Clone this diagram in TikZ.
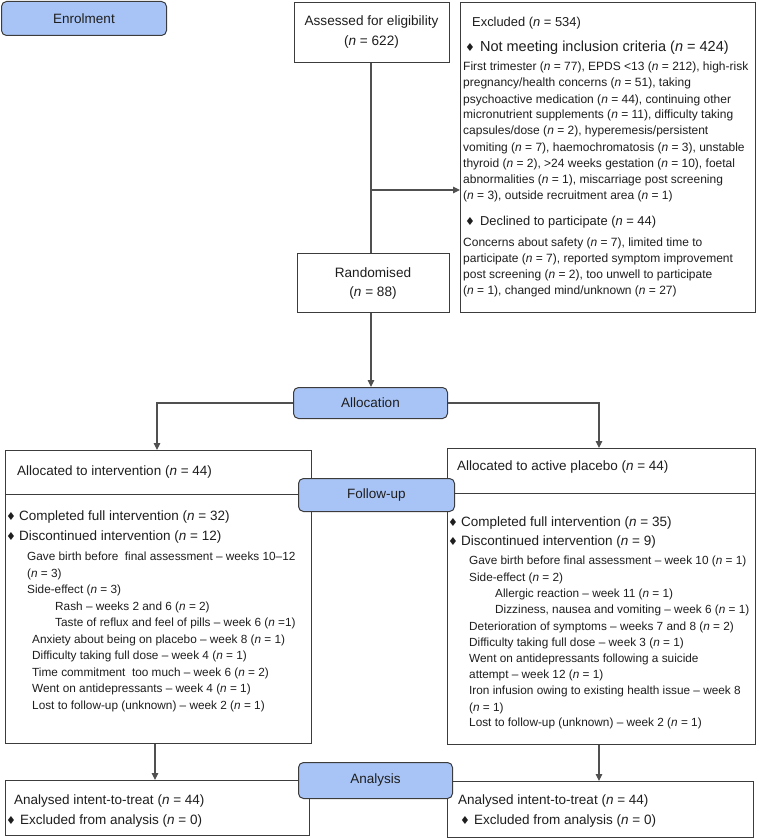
\documentclass[tikz,border=0pt]{standalone}
\usepackage{fontspec}
\setmainfont{Liberation Sans}
\newfontfamily\dejavu{DejaVu Sans}
\usetikzlibrary{arrows.meta}
\definecolor{phase}{RGB}{168,196,246}
\definecolor{ink}{RGB}{30,30,30}
\definecolor{edge}{RGB}{60,60,60}
\definecolor{linec}{RGB}{80,80,80}
\newcommand\nn{\textit{n}}
\newcommand\dia{{\dejavu\fontsize{11}{11}\selectfont ♦}}
\newcounter{tlc}
\newcommand\tline[4]{\stepcounter{tlc}\node[#1] (t\arabic{tlc}) at (#2,#3) {#4};}
\begin{document}
\begin{tikzpicture}[x=1pt,y=-1pt,
  box/.style={draw=edge, line width=0.9pt, fill=white, inner sep=0pt, anchor=north west},
  phasebox/.style={draw=edge, line width=1pt, fill=phase, rounded corners=5pt, inner sep=0pt, anchor=north west, font=\fontsize{13.5}{16}\selectfont, text=ink},
  conn/.style={draw=linec, line width=1.1pt},
  arr/.style={conn, -{Triangle[length=7pt,width=6.5pt]}},
  txt/.style={anchor=base west, inner sep=0pt, text=ink},
  ctxt/.style={anchor=base, inner sep=0pt, text=ink, font=\fontsize{13.6}{16}\selectfont},
  tbody/.style={txt, font=\fontsize{12}{14}\selectfont},
  tsmall/.style={txt, font=\fontsize{11.8}{14}\selectfont},
  tmid/.style={txt, font=\fontsize{12.9}{15}\selectfont},
  thead/.style={txt, font=\fontsize{13.5}{16}\selectfont},
  tbig/.style={txt, font=\fontsize{14.5}{17}\selectfont}
]
\useasboundingbox (0,0) rectangle (757,840);
% boxes
\node[phasebox, minimum width=165pt, minimum height=34pt] (enrol) at (1,1) {Enrolment};
\node[box, minimum width=155pt, minimum height=60pt] (assess) at (294,2) {};
\node[box, minimum width=295pt, minimum height=310pt] (excl) at (460,2) {};
\node[box, minimum width=152pt, minimum height=59pt] (rand) at (297,253) {};
\node[phasebox, minimum width=154pt, minimum height=31pt] (alloc) at (293,387) {Allocation};
\node[box, minimum width=306pt, minimum height=293pt] (lbox) at (5,450) {};
\node[box, minimum width=308pt, minimum height=296pt] (rbox) at (447,448) {};
\node[box, minimum width=304pt, minimum height=55pt] (la) at (5,780) {};
\node[box, minimum width=306pt, minimum height=56pt] (ra) at (447,781) {};
% header separators
\draw[draw=edge, line width=0.9pt] (lbox.west |- 0,494) -- (lbox.east |- 0,494);
\draw[draw=edge, line width=0.9pt] (rbox.west |- 0,493) -- (rbox.east |- 0,493);
% connectors
\coordinate (jn) at (371,190);
\coordinate (lin) at (157,450);
\coordinate (rin) at (599,448);
\coordinate (cl) at (155,0);
\coordinate (cr) at (599,0);
\draw[conn] (assess.south -| jn) -- (rand.north -| jn);
\draw[arr] (jn) -- (jn -| excl.west);
\draw[arr] (rand.south -| jn) -- (alloc.north -| jn);
\draw[arr] (alloc.west) -| (lin);
\draw[arr] (alloc.east) -| (rin);
\draw[arr] (lbox.south -| cl) -- (la.north -| cl);
\draw[arr] (rbox.south -| cr) -- (ra.north -| cr);
% phase boxes drawn over
\node[phasebox, minimum width=156pt, minimum height=33pt] (follow) at (298,478) {Follow-up};
\node[phasebox, minimum width=154pt, minimum height=36pt] (anal) at (298,762) {Analysis};
% centred texts
\node[ctxt] (a1) at (371.5,25.5) {Assessed for eligibility};
\node[ctxt] (a2) at (371.5,45.5) {(\nn{} = 622)};
\node[ctxt] (r1) at (373,277) {Randomised};
\node[ctxt] (r2) at (373,296) {(\nn{} = 88)};
% excluded box
\tline{tmid}{472}{27}{Excluded (\nn{} = 534)}
\tline{tbig}{465}{52}{\dia\hspace{5pt}Not meeting inclusion criteria (\nn{} = 424)}
\tline{tbody}{463}{71}{First trimester (\nn{} = 77), EPDS <13 (\nn{} = 212), high-risk}
\tline{tbody}{463}{87}{pregnancy/health concerns (\nn{} = 51), taking}
\tline{tbody}{463}{103}{psychoactive medication (\nn{} = 44), continuing other}
\tline{tbody}{463}{119}{micronutrient supplements (\nn{} = 11), difficulty taking}
\tline{tbody}{463}{135}{capsules/dose (\nn{} = 2), hyperemesis/persistent}
\tline{tbody}{463}{151}{vomiting (\nn{} = 7), haemochromatosis (\nn{} = 3), unstable}
\tline{tbody}{463}{167}{thyroid (\nn{} = 2), >24 weeks gestation (\nn{} = 10), foetal}
\tline{tbody}{463}{183}{abnormalities (\nn{} = 1), miscarriage post screening}
\tline{tbody}{463}{199}{(\nn{} = 3), outside recruitment area (\nn{} = 1)}
\tline{tmid}{465}{225}{\dia\hspace{5pt}Declined to participate (\nn{} = 44)}
\tline{tbody}{463}{246}{Concerns about safety (\nn{} = 7), limited time to}
\tline{tbody}{463}{262}{participate (\nn{} = 7), reported symptom improvement}
\tline{tbody}{463}{278}{post screening (\nn{} = 2), too unwell to participate}
\tline{tbody}{463}{294}{(\nn{} = 1), changed mind/unknown (\nn{} = 27)}
% left box
\tline{thead}{17}{475}{Allocated to intervention (\nn{} = 44)}
\tline{thead}{6}{520}{\dia\hspace{3pt}Completed full intervention (\nn{} = 32)}
\tline{thead}{6}{540}{\dia\hspace{3pt}Discontinued intervention (\nn{} = 12)}
\tline{tsmall}{27}{560}{Gave birth before\ \ final assessment – weeks 10–12}
\tline{tsmall}{27}{577}{(\nn{} = 3)}
\tline{tsmall}{27}{593}{Side-effect (\nn{} = 3)}
\tline{tsmall}{55}{610}{Rash – weeks 2 and 6 (\nn{} = 2)}
\tline{tsmall}{55}{626}{Taste of reflux and feel of pills – week 6 (\nn{} =1)}
\tline{tsmall}{32}{643}{Anxiety about being on placebo – week 8 (\nn{} = 1)}
\tline{tsmall}{32}{659}{Difficulty taking full dose – week 4 (\nn{} = 1)}
\tline{tsmall}{32}{676}{Time commitment\ \ too much – week 6 (\nn{} = 2)}
\tline{tsmall}{32}{692}{Went on antidepressants – week 4 (\nn{} = 1)}
\tline{tsmall}{32}{709}{Lost to follow-up (unknown) – week 2 (\nn{} = 1)}
% right box
\tline{thead}{457}{470}{Allocated to active placebo (\nn{} = 44)}
\tline{thead}{448}{526}{\dia\hspace{3pt}Completed full intervention (\nn{} = 35)}
\tline{thead}{448}{545}{\dia\hspace{3pt}Discontinued intervention (\nn{} = 9)}
\tline{tsmall}{469}{564}{Gave birth before final assessment – week 10 (\nn{} = 1)}
\tline{tsmall}{469}{581}{Side-effect (\nn{} = 2)}
\tline{tsmall}{495}{597}{Allergic reaction – week 11 (\nn{} = 1)}
\tline{tsmall}{495}{613}{Dizziness, nausea and vomiting – week 6 (\nn{} = 1)}
\tline{tsmall}{469}{630}{Deterioration of symptoms – weeks 7 and 8 (\nn{} = 2)}
\tline{tsmall}{469}{646}{Difficulty taking full dose – week 3 (\nn{} = 1)}
\tline{tsmall}{469}{662}{Went on antidepressants following a suicide}
\tline{tsmall}{469}{678}{attempt – week 12 (\nn{} = 1)}
\tline{tsmall}{469}{694}{Iron infusion owing to existing health issue – week 8}
\tline{tsmall}{469}{711}{(\nn{} = 1)}
\tline{tsmall}{469}{726}{Lost to follow-up (unknown) – week 2 (\nn{} = 1)}
% analysis boxes
\tline{thead}{14}{804}{Analysed intent-to-treat (\nn{} = 44)}
\tline{thead}{6}{824}{\dia\hspace{4pt}Excluded from analysis (\nn{} = 0)}
\tline{thead}{458}{804}{Analysed intent-to-treat (\nn{} = 44)}
\tline{thead}{460}{824}{\dia\hspace{4pt}Excluded from analysis (\nn{} = 0)}
\end{tikzpicture}
\end{document}
